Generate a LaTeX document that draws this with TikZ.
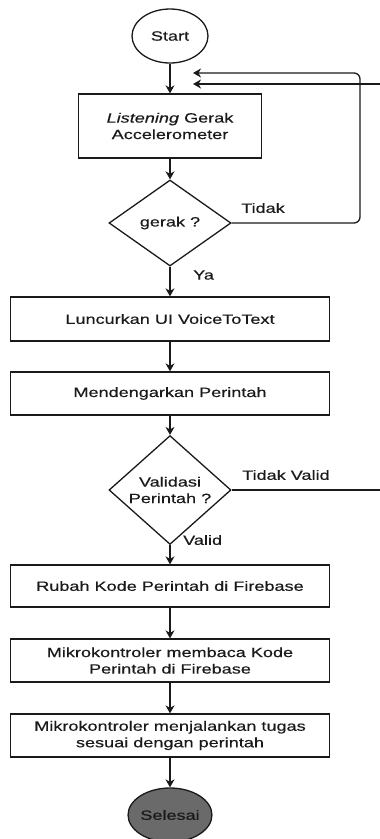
\documentclass[tikz,border=0pt]{standalone}
\usepackage{fontspec}
\setmainfont{Liberation Sans}
\newfontfamily\flowfont[FakeStretch=1.34,FakeBold=0.4]{Liberation Sans}
\usetikzlibrary{shapes.geometric,arrows.meta}
\definecolor{ink}{HTML}{1A1A1A}
\definecolor{endfill}{HTML}{6A6A6A}
\begin{document}
\begin{tikzpicture}[x=1pt,y=-1pt,
  every node/.style={font=\flowfont\fontsize{13.5}{16.5}\selectfont, text=ink},
  procbox/.style={draw=ink, line width=1.3pt, rectangle, inner sep=0pt, align=center},
  decide/.style={draw=ink, line width=1.3pt, diamond, inner sep=0pt, align=center,
                 minimum width=122pt, minimum height=86pt},
  terminal/.style={draw=ink, line width=1.3pt, ellipse, inner sep=0pt,
                   minimum width=76pt, minimum height=54pt},
  flow/.style={draw=ink, line width=1.3pt, -{Stealth[length=8pt,width=9pt,inset=2.5pt]}},
  link/.style={draw=ink, line width=1.3pt},
  tag/.style={anchor=west, inner sep=0pt}]
\useasboundingbox (0,0) rectangle (380,839);

% main column of steps
\node[terminal] (start) at (170,36) {Start};
\node[procbox, minimum width=183pt, minimum height=64pt] (listen) at (170,126)
  {\textit{Listening} Gerak\\Accelerometer};
\node[decide] (gerak) at (170,223) {gerak ?};
\node[procbox, minimum width=319pt, minimum height=44pt] (launch) at (170,319)
  {Luncurkan UI VoiceToText};
\node[procbox, minimum width=319pt, minimum height=43pt] (hear) at (170,393.5)
  {Mendengarkan Perintah};
\node[decide, minimum height=84pt] (valid) at (170,490) {Validasi\\Perintah ?};
\node[procbox, minimum width=319pt, minimum height=42pt] (change) at (170,586)
  {Rubah Kode Perintah di Firebase};
\node[procbox, minimum width=319pt, minimum height=43pt] (read) at (170,660.5)
  {Mikrokontroler membaca Kode\\Perintah di Firebase};
\node[procbox, minimum width=319pt, minimum height=43pt] (run) at (170,735.5)
  {Mikrokontroler menjalankan tugas\\sesuai dengan perintah};
\node[terminal, fill=endfill, minimum width=78pt] (finish) at (170,815) {Selesai};

% straight connectors
\draw[flow] (start) -- (listen);
\draw[flow] (listen) -- (gerak);
\draw[flow] (gerak) -- (launch);
\draw[flow] (launch) -- (hear);
\draw[flow] (hear) -- (valid);
\draw[flow] (valid) -- (change);
\draw[flow] (change) -- (read);
\draw[flow] (read) -- (run);
\draw[flow] (run) -- (finish);

% loop back when no motion is detected
\coordinate (loopA) at (193,73);
\coordinate (turnA) at (360,223);
\coordinate (topA) at (360,73);
\draw[flow, rounded corners=6pt] (gerak.east) -- (turnA) -- (topA) -- (loopA);

% loop back for an invalid command
\coordinate (exitB) at (380,490);
\coordinate (entryB) at (380,84);
\coordinate (loopB) at (193,84);
\draw[link] (valid.east) -- (exitB);
\draw[flow] (entryB) -- (loopB);

% branch labels
\node[tag] (tidak) at (241,208) {Tidak};
\node[tag] (ya) at (193,275) {Ya};
\node[tag] (tidakvalid) at (242,475) {Tidak Valid};
\node[tag] (validlbl) at (183,540) {Valid};
\end{tikzpicture}
\end{document}
